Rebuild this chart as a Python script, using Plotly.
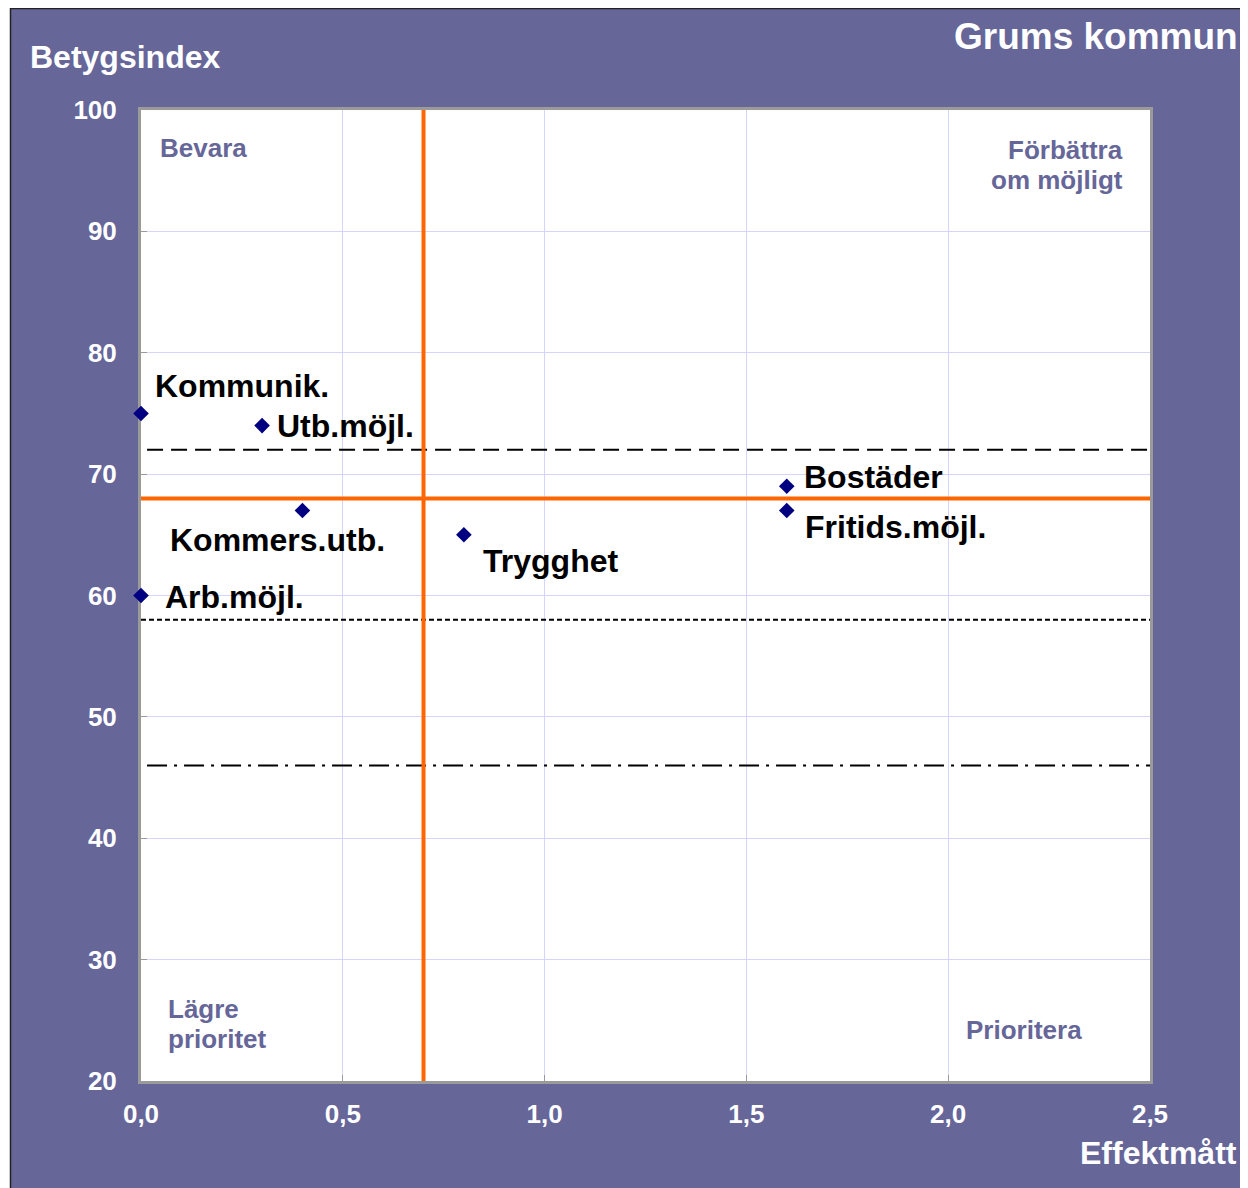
import plotly.graph_objects as go

# ---- data ----
categories = ["Kommunik.", "Utb.möjl.", "Kommers.utb.", "Arb.möjl.", "Trygghet", "Bostäder", "Fritids.möjl."]
effekt = [0.0, 0.3, 0.4, 0.0, 0.8, 1.6, 1.6]
betyg = [75, 74, 67, 60, 65, 69, 67]

x_ticks = [0.0, 0.5, 1.0, 1.5, 2.0, 2.5]
x_ticktext = ["0,0", "0,5", "1,0", "1,5", "2,0", "2,5"]
y_ticks = [20, 30, 40, 50, 60, 70, 80, 90, 100]

split_x = 0.7
split_y = 68
ref_dash = 72
ref_dot = 58
ref_dashdot = 46

# label offsets in pixels (dx, dy) relative to the marker
label_offsets = {
    "Kommunik.": (12, 27),
    "Utb.möjl.": (13, 0),
    "Kommers.utb.": (-134, -29),
    "Arb.möjl.": (22, -1),
    "Trygghet": (17, -26),
    "Bostäder": (15, 9),
    "Fritids.möjl.": (16, -16),
}

OFF = 8  # page body margin
W, H = 1248, 1188
# plot area edges in page pixels
PL, PR, PT, PB = 141, 1150, 110, 1081
L, R, T, B = PL - OFF, PR - OFF, PT - OFF, PB - OFF
PW, PH = R - L, B - T


def px2x(px):  # page px -> paper
    return (px - PL) / PW


def px2y(py):
    return (PB - py) / PH


PURPLE = "#666699"
FONT = "Liberation Sans, Arial, sans-serif"

fig = go.Figure()
fig.add_trace(go.Scatter(
    x=effekt, y=betyg, mode="markers",
    marker=dict(symbol="diamond", color="#000080", size=12),
    cliponaxis=False, hoverinfo="text", text=categories, showlegend=False,
))

shapes = []
# reference lines
shapes.append(dict(type="line", xref="x", yref="y", x0=0.015, x1=2.5, y0=ref_dash, y1=ref_dash,
                   line=dict(color="black", width=2, dash="16px,8px")))
shapes.append(dict(type="line", xref="x", yref="y", x0=0, x1=2.5, y0=ref_dot, y1=ref_dot,
                   line=dict(color="black", width=2, dash="5px,3px")))
shapes.append(dict(type="line", xref="x", yref="y", x0=0.015, x1=2.5, y0=ref_dashdot, y1=ref_dashdot,
                   line=dict(color="black", width=2, dash="20px,7px,3px,7px")))
shapes.append(dict(type="line", xref="x", yref="y", x0=split_x, x1=split_x, y0=20, y1=100,
                   line=dict(color="#ff6600", width=4)))
shapes.append(dict(type="line", xref="x", yref="y", x0=0, x1=2.5, y0=split_y, y1=split_y,
                   line=dict(color="#ff6600", width=4)))
# white left strip and dark frame edge
shapes.append(dict(type="rect", xref="paper", yref="paper", x0=px2x(0), x1=px2x(10),
                   y0=px2y(H + 20), y1=px2y(0), fillcolor="white", line=dict(width=0), layer="above"))
shapes.append(dict(type="line", xref="paper", yref="paper", x0=px2x(10), x1=px2x(W + 20),
                   y0=px2y(8.5), y1=px2y(8.5), line=dict(color="#222222", width=1.5), layer="above"))
shapes.append(dict(type="line", xref="paper", yref="paper", x0=px2x(10.5), x1=px2x(10.5),
                   y0=px2y(8), y1=px2y(H + 20), line=dict(color="#222222", width=1.5), layer="above"))

annotations = []
for name, xv, yv in zip(categories, effekt, betyg):
    dx, dy = label_offsets[name]
    annotations.append(dict(
        x=xv, y=yv, xref="x", yref="y", text=name, showarrow=False,
        xanchor="left", yanchor="middle", xshift=dx, yshift=dy,
        font=dict(family=FONT, size=32, color="black", weight="bold"),
    ))

qfont = dict(family=FONT, size=26, color=PURPLE, weight="bold")
quadrant_labels = [
    ("Bevara", 158, 148, "left"),
    ("Förbättra", 1125, 150, "right"),
    ("om möjligt", 1125, 180, "right"),
    ("Lägre", 166, 1009, "left"),
    ("prioritet", 166, 1039, "left"),
    ("Prioritera", 964, 1030, "left"),
]
for txt, px, py, anc in quadrant_labels:
    annotations.append(dict(x=px2x(px), y=px2y(py), xref="paper", yref="paper", text=txt,
                            showarrow=False, xanchor=anc, yanchor="middle", font=qfont))

wfont_title = dict(family=FONT, size=37, color="white", weight="bold")
wfont_axis = dict(family=FONT, size=32, color="white", weight="bold")
annotations += [
    dict(x=px2x(1240), y=px2y(37), xref="paper", yref="paper", text="Grums kommun", showarrow=False,
         xanchor="right", yanchor="middle", font=wfont_title),
    dict(x=px2x(28), y=px2y(57), xref="paper", yref="paper", text="Betygsindex", showarrow=False,
         xanchor="left", yanchor="middle", font=wfont_axis),
    dict(x=px2x(1239), y=px2y(1153), xref="paper", yref="paper", text="Effektmått", showarrow=False,
         xanchor="right", yanchor="middle", font=wfont_axis),
]

tickfont = dict(family=FONT, size=26, color="white", weight="bold")
fig.update_layout(
    width=W, height=H,
    margin=dict(l=L, r=W - R, t=T, b=H - B, autoexpand=False),
    paper_bgcolor=PURPLE, plot_bgcolor="white",
    showlegend=False,
    shapes=shapes, annotations=annotations,
    xaxis=dict(range=[0, 2.5], tickvals=x_ticks, ticktext=x_ticktext, tickfont=tickfont,
               showgrid=True, gridcolor="#d4d4ff", gridwidth=1, zeroline=False,
               showline=True, linecolor="#9a9a9a", linewidth=3, mirror=True,
               ticks="inside", ticklen=6, tickcolor="#9a9a9a", ticklabelstandoff=8,
               layer="below traces", automargin=False, fixedrange=True),
    yaxis=dict(range=[20, 100], tickvals=y_ticks, tickfont=tickfont,
               showgrid=True, gridcolor="#d4d4ff", gridwidth=1, zeroline=False,
               showline=True, linecolor="#9a9a9a", linewidth=3, mirror=True,
               ticks="inside", ticklen=6, tickcolor="#9a9a9a", ticklabelstandoff=16,
               layer="below traces", automargin=False, fixedrange=True),
)

fig.write_html("out.html")
